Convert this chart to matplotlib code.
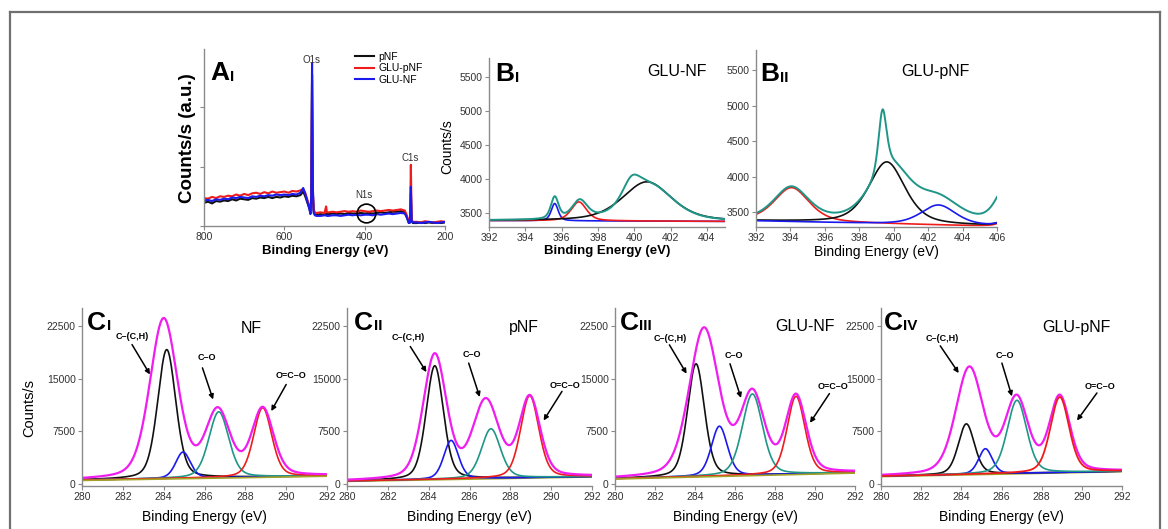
import numpy as np
import matplotlib
matplotlib.use("Agg")
import matplotlib.pyplot as plt
from matplotlib.lines import Line2D

plt.rcParams['font.family'] = ['Liberation Sans', 'DejaVu Sans']

W, H = 1168, 529

BLACK = '#111111'
RED = '#ee1c1c'
BLUE = '#1a1aee'
TEAL = '#1f9688'
MAGENTA = '#f01cf0'
OLIVE = '#a3a226'
SPINE = '#8a8a8a'

# ---------------- panel A: survey spectra ----------------
survey_be = [800, 790, 780, 770, 760, 750, 740, 730, 720, 710, 700, 690, 680, 670, 660, 650, 640, 630, 620, 610, 600, 590, 580, 570, 560,
             553, 548, 543, 538, 535, 533, 531, 529, 527, 524, 520,
             510, 500, 496, 494,
             490, 480, 470, 460, 450, 440, 430, 420, 410, 400, 390, 380, 370, 360, 350, 340, 330, 320, 310, 300,
             295, 290, 287, 285, 283, 280,
             270, 260, 250, 240, 230, 220, 210, 200]
survey_pnf = [0.39, 0.41, 0.38, 0.42, 0.41, 0.43, 0.42, 0.45, 0.43, 0.46, 0.45, 0.44, 0.47, 0.46, 0.48, 0.47, 0.49, 0.47, 0.49, 0.48, 0.50, 0.49, 0.51, 0.50, 0.52,
              0.58, 0.50, 0.40, 0.30, 0.22, 0.40, 2.55, 0.55, 0.25, 0.20, 0.19,
              0.20, 0.19, 0.21, 0.20,
              0.20, 0.21, 0.20, 0.21, 0.20, 0.22, 0.21, 0.21, 0.22, 0.21, 0.22, 0.21, 0.22, 0.23, 0.22, 0.23, 0.24, 0.24, 0.25, 0.23,
              0.15, 0.05, 0.06, 0.55, 0.08, 0.05,
              0.05, 0.06, 0.05, 0.06, 0.05, 0.06, 0.05, 0.06]
survey_glu_pnf = [0.47, 0.46, 0.49, 0.47, 0.50, 0.49, 0.51, 0.50, 0.53, 0.51, 0.54, 0.52, 0.55, 0.56, 0.54, 0.57, 0.55, 0.58, 0.56, 0.57, 0.58, 0.56, 0.59, 0.58, 0.60,
                  0.62, 0.56, 0.45, 0.34, 0.25, 0.45, 2.45, 0.60, 0.28, 0.23, 0.22,
                  0.23, 0.22, 0.33, 0.23,
                  0.23, 0.24, 0.23, 0.24, 0.25, 0.24, 0.25, 0.24, 0.26, 0.25, 0.24, 0.25, 0.26, 0.25, 0.26, 0.27, 0.26, 0.27, 0.28, 0.26,
                  0.18, 0.07, 0.08, 1.03, 0.10, 0.07,
                  0.07, 0.06, 0.08, 0.07, 0.06, 0.07, 0.08, 0.07]
survey_glu_nf = [0.43, 0.44, 0.42, 0.45, 0.44, 0.46, 0.45, 0.48, 0.47, 0.49, 0.48, 0.47, 0.50, 0.49, 0.51, 0.50, 0.52, 0.51, 0.53, 0.52, 0.53, 0.52, 0.54, 0.53, 0.56,
                 0.64, 0.54, 0.42, 0.30, 0.20, 0.50, 2.74, 0.65, 0.22, 0.18, 0.17,
                 0.17, 0.18, 0.18, 0.17,
                 0.17, 0.18, 0.18, 0.17, 0.18, 0.19, 0.18, 0.19, 0.18, 0.19, 0.19, 0.18, 0.20, 0.19, 0.20, 0.21, 0.20, 0.21, 0.22, 0.21,
                 0.14, 0.05, 0.06, 0.66, 0.08, 0.06,
                 0.06, 0.05, 0.06, 0.07, 0.06, 0.05, 0.06, 0.07]
survey_names = ['pNF', 'GLU-pNF', 'GLU-NF']
peak_names = ['O1s', 'N1s', 'C1s']
peak_label_xy = [(532, 2.80), (401.5, 0.52), (285.5, 1.15)]
n1s_circle = (397.5, 0.225)

# ---------------- panels B: N1s fits ----------------
# B_I  GLU-NF
bi_bg = [3392, 3380]                      # at 392 and 405 eV
bi_comp_center = [395.62, 396.95, 400.7]  # blue, red, black
bi_comp_apex = [3643, 3667, 3963]
bi_comp_fwhm = [0.45, 1.0, 3.2]
bi_env_center = [395.62, 397.0, 399.85, 400.9]
bi_env_fwhm = [0.5, 1.0, 1.2, 3.0]
bi_env_at = [395.62, 397.0, 399.85, 400.9]
bi_env_value = [3751, 3707, 4052, 3958]

# B_II GLU-pNF
bii_bg = [3380, 3300]                     # at 392 and 406 eV
bii_bg_tail = [406.9, 1.2, 150]           # rise at high BE: centre, fwhm, height
bii_comp_center = [394.07, 399.6, 402.6]  # red, black, blue
bii_comp_apex = [3847, 4209, 3603]
bii_comp_fwhm = [2.4, 2.5, 2.4]
bii_env_center = [394.05, 399.35, 399.8, 402.6, 406.6]
bii_env_fwhm = [2.4, 0.55, 2.8, 3.0, 1.6]
bii_env_at = [394.05, 399.35, 400.95, 403.3, 406.0]
bii_env_value = [3866, 4946, 3974, 3669, 3716]

# ---------------- panels C: C1s fits ----------------
bond_labels = ['C–(C,H)', 'C–O', 'O=C–O']
# component order: C-C (black), C-H shoulder (blue), C-O (teal), O=C-O (red)
ci_bg = [600, 1200]
ci_comp_center = [284.15, 284.95, 286.7, 288.85]
ci_comp_apex = [19140, 4580, 10300, 10870]
ci_comp_fwhm = [1.05, 0.85, 1.15, 1.05]
ci_env_center = [284.0, 286.65, 288.85]
ci_env_apex = [23630, 10960, 11010]
ci_env_fwhm = [1.6, 1.4, 1.25]
ci_text_xy = [(282.45, 21000), (286.1, 17960), (290.25, 15450)]
ci_arrow_from = [(282.45, 19850), (285.9, 16540), (290.0, 14180)]
ci_arrow_to = [(283.33, 15600), (286.42, 12050), (289.27, 10400)]
ci_title = ('NF', 288.3, 22200)

cii_bg = [470, 1100]
cii_comp_center = [284.3, 285.1, 287.05, 288.95]
cii_comp_apex = [16840, 6230, 7880, 12600]
cii_comp_fwhm = [1.0, 0.85, 1.1, 1.05]
cii_env_center = [284.3, 286.8, 288.95]
cii_env_apex = [18630, 12260, 12700]
cii_env_fwhm = [1.35, 1.5, 1.2]
cii_text_xy = [(283.02, 20850), (286.12, 18400), (290.69, 14010)]
cii_arrow_from = [(283.1, 19575), (285.96, 17220), (290.53, 13200)]
cii_arrow_to = [(283.89, 15940), (286.5, 12400), (289.63, 9060)]
cii_title = ('pNF', 288.65, 22300)

ciii_bg = [800, 1650]
ciii_comp_center = [284.05, 285.22, 286.87, 289.05]
ciii_comp_apex = [17120, 8250, 12830, 12500]
ciii_comp_fwhm = [1.0, 0.95, 1.2, 1.05]
ciii_env_center = [284.45, 286.87, 289.05]
ciii_env_apex = [22310, 13580, 12880]
ciii_env_fwhm = [1.75, 1.4, 1.2]
ciii_text_xy = [(282.75, 20750), (285.92, 18250), (290.92, 13915)]
ciii_arrow_from = [(282.72, 19810), (285.75, 17120), (290.72, 12880)]
ciii_arrow_to = [(283.58, 15710), (286.3, 12260), (289.75, 8730)]
ciii_title = ('GLU-NF', 289.5, 22400)

civ_bg = [1150, 1850]
civ_comp_center = [284.25, 285.2, 286.77, 288.9]
civ_comp_apex = [8580, 5050, 11930, 12400]
civ_comp_fwhm = [0.95, 0.8, 1.15, 1.1]
civ_env_center = [284.4, 286.75, 288.9]
civ_env_apex = [16750, 12740, 12740]
civ_env_fwhm = [1.6, 1.35, 1.2]
civ_text_xy = [(283.04, 20750), (286.19, 18250), (290.92, 13915)]
civ_arrow_from = [(282.95, 19670), (286.02, 17220), (290.75, 12970)]
civ_arrow_to = [(283.87, 15800), (286.52, 12500), (289.76, 9060)]
civ_title = ('GLU-pNF', 289.73, 22300)


def rect(l, t, r, b):
    return [l / W, 1 - b / H, (r - l) / W, (b - t) / H]


def px(x, y):
    return x / W, 1 - y / H


def style(ax):
    for s in ('top', 'right'):
        ax.spines[s].set_visible(False)
    for s in ('left', 'bottom'):
        ax.spines[s].set_color(SPINE)
        ax.spines[s].set_linewidth(1.0)
    ax.tick_params(direction='out', length=3, width=0.8, color=SPINE,
                   labelsize=7.5, labelcolor='#333333', pad=1.5)


def panel_label(ax, x, y, letter, sub):
    t = ax.text(x, y, letter, transform=ax.transAxes, fontsize=19,
                fontweight='bold', ha='left', va='top')
    ax.annotate(sub, xy=(1, 0), xycoords=t, xytext=(0.5, 1), textcoords='offset points',
                fontsize=11, fontweight='bold', ha='left', va='bottom')


def pv(x, c, w, eta):
    r2 = ((np.asarray(x, dtype=float) - c) / w) ** 2
    return (1 - eta) * np.exp(-4 * np.log(2) * r2) + eta / (1 + 4 * r2)


def linear_bg(x0, x1, ends):
    return lambda x: ends[0] + (ends[1] - ends[0]) * (np.asarray(x, dtype=float) - x0) / (x1 - x0)


def component(x, bg, c, apex, w, eta):
    return bg(x) + (apex - bg(c)) * pv(x, c, w, eta)


def envelope(x, bg, centers, fwhm, at, values, eta):
    A = np.array([[pv(xa, c, w, eta) for c, w in zip(centers, fwhm)] for xa in at])
    h = np.linalg.solve(A, np.asarray(values, dtype=float) - bg(np.asarray(at)))
    return bg(x) + sum(hi * pv(x, c, w, eta) for hi, c, w in zip(h, centers, fwhm))


fig = plt.figure(figsize=(W / 100, H / 100), dpi=100)

# frame round the figure
fig.add_artist(Line2D([9.5 / W, 9.5 / W], [0, 1 - 12 / H], color='#707070', lw=1.6))
fig.add_artist(Line2D([9.5 / W, 1160 / W], [1 - 12 / H, 1 - 12 / H], color='#707070', lw=1.6))
fig.add_artist(Line2D([1160 / W, 1160 / W], [0, 1 - 12 / H], color='#707070', lw=1.6))

# ---- A ----
axA = fig.add_axes(rect(204, 49, 445, 226))
style(axA)
for ys, col, name in zip([survey_pnf, survey_glu_pnf, survey_glu_nf], [BLACK, RED, BLUE], survey_names):
    axA.plot(survey_be, ys, color=col, lw=1.5, label=name)
axA.set_xlim(800, 200)
axA.set_ylim(0, 2.98)
axA.set_xticks([800, 600, 400, 200])
axA.set_yticks([0, 1, 2])
axA.set_yticklabels([])
for name, (x, y) in zip(peak_names, peak_label_xy):
    axA.text(x, y, name, fontsize=7, color='#333333', ha='center', va='center')
axA.plot(*n1s_circle, marker='o', ms=13.5, mfc='none', mec='black', mew=1.2)
axA.legend(loc='upper left', bbox_to_anchor=(0.625, 0.985), frameon=False, fontsize=7.5,
           handlelength=1.9, handletextpad=0.4, labelspacing=0.15, borderaxespad=0, borderpad=0)
panel_label(axA, 0.025, 0.93, 'A', 'I')
fig.text(*px(187, 138), 'Counts/s (a.u.)', rotation=90, fontsize=13.5, fontweight='bold',
         ha='center', va='center')
fig.text(*px(325, 251), 'Binding Energy (eV)', fontsize=9.5, fontweight='bold', ha='center', va='center')

# ---- B_I ----
xb1 = np.linspace(392, 405, 700)
bg1 = linear_bg(392, 405, bi_bg)
axB1 = fig.add_axes(rect(489, 58, 725, 227))
style(axB1)
for c, a, w, col in zip(bi_comp_center, bi_comp_apex, bi_comp_fwhm, [BLUE, RED, BLACK]):
    axB1.plot(xb1, component(xb1, bg1, c, a, w, 0.5), color=col, lw=1.2)
axB1.plot(xb1, envelope(xb1, bg1, bi_env_center, bi_env_fwhm, bi_env_at, bi_env_value, 0.5),
          color=TEAL, lw=1.4)
axB1.set_xlim(392, 405)
axB1.set_ylim(3297, 5787)
axB1.set_xticks(np.arange(392, 405, 2))
axB1.set_yticks(np.arange(3500, 5501, 500))
axB1.text(402.33, 5589, 'GLU-NF', fontsize=11.5, ha='center', va='center')
panel_label(axB1, 0.025, 0.975, 'B', 'I')
fig.text(*px(447, 147), 'Counts/s', rotation=90, fontsize=10, ha='center', va='center')
fig.text(*px(607, 251), 'Binding Energy (eV)', fontsize=9.5, fontweight='bold', ha='center', va='center')

# ---- B_II ----
xb2 = np.linspace(392, 406, 700)
lin2 = linear_bg(392, 406, bii_bg)
bg2 = lambda x: lin2(x) + bii_bg_tail[2] * pv(x, bii_bg_tail[0], bii_bg_tail[1], 0.5)
axB2 = fig.add_axes(rect(756, 50, 997, 227))
style(axB2)
for c, a, w, col in zip(bii_comp_center, bii_comp_apex, bii_comp_fwhm, [RED, BLACK, BLUE]):
    axB2.plot(xb2, component(xb2, bg2, c, a, w, 0.5), color=col, lw=1.2)
axB2.plot(xb2, envelope(xb2, bg2, bii_env_center, bii_env_fwhm, bii_env_at, bii_env_value, 0.5),
          color=TEAL, lw=1.4)
axB2.set_xlim(392, 406)
axB2.set_ylim(3293, 5782)
axB2.set_xticks(np.arange(392, 407, 2))
axB2.set_yticks(np.arange(3500, 5501, 500))
axB2.text(402.45, 5477, 'GLU-pNF', fontsize=11.5, ha='center', va='center')
panel_label(axB2, 0.017, 0.93, 'B', 'II')
fig.text(*px(876, 252), 'Binding Energy (eV)', fontsize=10, ha='center', va='center')

# ---- C row ----
c_boxes = [(82, 327), (347, 592), (615, 855), (881, 1122)]
c_subs = ['I', 'II', 'III', 'IV']
c_label_x = [0.02, 0.03, 0.02, 0.01]
c_top = ['olive', 'none', 'olive', 'red']
c_sets = [
    (ci_bg, ci_comp_center, ci_comp_apex, ci_comp_fwhm, ci_env_center, ci_env_apex, ci_env_fwhm,
     ci_text_xy, ci_arrow_from, ci_arrow_to, ci_title),
    (cii_bg, cii_comp_center, cii_comp_apex, cii_comp_fwhm, cii_env_center, cii_env_apex, cii_env_fwhm,
     cii_text_xy, cii_arrow_from, cii_arrow_to, cii_title),
    (ciii_bg, ciii_comp_center, ciii_comp_apex, ciii_comp_fwhm, ciii_env_center, ciii_env_apex, ciii_env_fwhm,
     ciii_text_xy, ciii_arrow_from, ciii_arrow_to, ciii_title),
    (civ_bg, civ_comp_center, civ_comp_apex, civ_comp_fwhm, civ_env_center, civ_env_apex, civ_env_fwhm,
     civ_text_xy, civ_arrow_from, civ_arrow_to, civ_title),
]
comp_colors = [BLACK, BLUE, TEAL, RED]
xc = np.linspace(280, 292, 900)

for (l, r), sub, lx, top, data in zip(c_boxes, c_subs, c_label_x, c_top, c_sets):
    bgv, cc, ca, cw, ec, ea, ew, txy, afrom, ato, title = data
    bg = linear_bg(280, 292, bgv)
    ax = fig.add_axes(rect(l, 308, r, 486))
    style(ax)
    if top in ('none', 'red'):
        ax.plot(xc, bg(xc) - 60, color=OLIVE, lw=1.2)
    comps = [component(xc, bg, c, a, w, 0.3) for c, a, w in zip(cc, ca, cw)]
    for k, (y, col) in enumerate(zip(comps, comp_colors)):
        if top == 'red' and k == 3:
            continue
        ax.plot(xc, y, color=col, lw=1.2)
    ax.plot(xc, envelope(xc, bg, ec, ew, ec, ea, 0.3), color=MAGENTA, lw=1.6)
    if top == 'red':
        ax.plot(xc, comps[3], color=RED, lw=1.3)
    if top == 'olive':
        ax.plot(xc, bg(xc) - 60, color=OLIVE, lw=1.2)
    ax.set_xlim(280, 292)
    ax.set_ylim(-250, 25050)
    ax.set_xticks(np.arange(280, 293, 2))
    ax.set_yticks([0, 7500, 15000, 22500])
    for lab, (tx, ty), p0, p1 in zip(bond_labels, txy, afrom, ato):
        ax.text(tx, ty, lab, fontsize=6.5, fontweight='bold', ha='center', va='center')
        ax.annotate('', xy=p1, xytext=p0,
                    arrowprops=dict(arrowstyle='-|>', color='black', lw=1.1, mutation_scale=7,
                                    shrinkA=0, shrinkB=0))
    ax.text(title[1], title[2], title[0], fontsize=11.5, ha='center', va='center')
    panel_label(ax, lx, 0.985, 'C', sub)
    fig.text(*px((l + r) / 2, 517), 'Binding Energy (eV)', fontsize=10, ha='center', va='center')

fig.text(*px(29, 408), 'Counts/s', rotation=90, fontsize=10.5, ha='center', va='center')

fig.savefig('out.png', dpi=100)
